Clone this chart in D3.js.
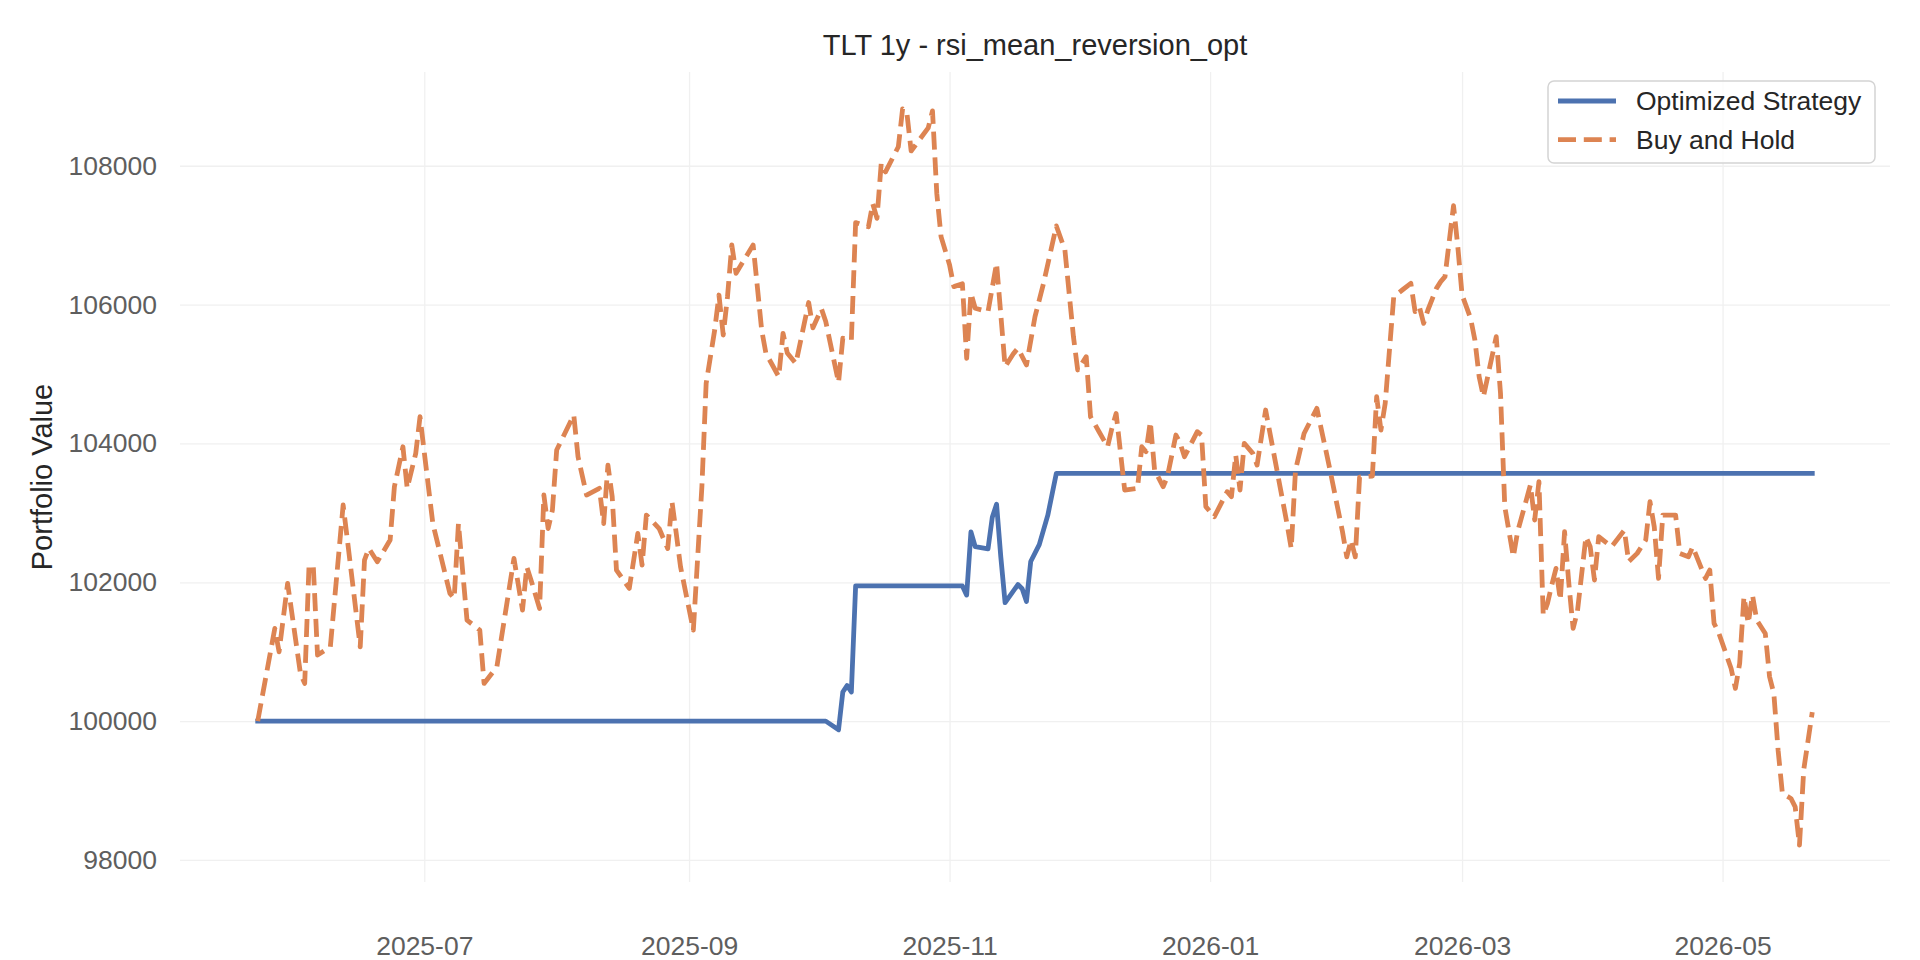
<!DOCTYPE html>
<html>
<head>
<meta charset="utf-8">
<script src="https://cdn.jsdelivr.net/npm/d3@7"></script>
<style>
  html, body { margin: 0; padding: 0; background: #ffffff; }
  svg { display: block; font-family: "Liberation Sans", Arial, sans-serif; }
</style>
</head>
<body>
<div id="chart"></div>
<script>
// Данные.
const titleText = "TLT 1y - rsi_mean_reversion_opt";
const yLabelText = "Portfolio Value";
const seriesNames = ["Optimized Strategy", "Buy and Hold"];

const strategyDates = [
  "2025-05-23", "2025-10-03", "2025-10-06", "2025-10-07", "2025-10-08", "2025-10-09",
  "2025-10-10", "2025-11-04", "2025-11-05", "2025-11-06", "2025-11-07", "2025-11-10",
  "2025-11-11", "2025-11-12", "2025-11-13", "2025-11-14", "2025-11-17", "2025-11-18",
  "2025-11-19", "2025-11-20", "2025-11-22", "2025-11-24", "2025-11-26", "2026-05-22",
];
const strategyValues = [
  100000, 100000, 99875, 100419, 100512, 100419,
  101948, 101948, 101815, 102725, 102513, 102481,
  102936, 103125, 102360, 101706, 101967, 101906,
  101723, 102299, 102542, 102967, 103570, 103570,
];

const holdDates = [
  "2025-05-23", "2025-05-27", "2025-05-28", "2025-05-30", "2025-06-02", "2025-06-03",
  "2025-06-04", "2025-06-05", "2025-06-06", "2025-06-09", "2025-06-12", "2025-06-13",
  "2025-06-16", "2025-06-17", "2025-06-18", "2025-06-20", "2025-06-23", "2025-06-24",
  "2025-06-26", "2025-06-27", "2025-06-29", "2025-06-30", "2025-07-03", "2025-07-07",
  "2025-07-08", "2025-07-09", "2025-07-11", "2025-07-14", "2025-07-15", "2025-07-18",
  "2025-07-22", "2025-07-24", "2025-07-25", "2025-07-26", "2025-07-28", "2025-07-29",
  "2025-07-30", "2025-07-31", "2025-08-01", "2025-08-05", "2025-08-06", "2025-08-08",
  "2025-08-11", "2025-08-12", "2025-08-13", "2025-08-14", "2025-08-15", "2025-08-18",
  "2025-08-20", "2025-08-21", "2025-08-22", "2025-08-25", "2025-08-27", "2025-08-28",
  "2025-08-29", "2025-08-30", "2025-09-02", "2025-09-04", "2025-09-05", "2025-09-07",
  "2025-09-08", "2025-09-09", "2025-09-10", "2025-09-11", "2025-09-12", "2025-09-16",
  "2025-09-18", "2025-09-19", "2025-09-22", "2025-09-23", "2025-09-24", "2025-09-26",
  "2025-09-29", "2025-09-30", "2025-10-02", "2025-10-03", "2025-10-06", "2025-10-07",
  "2025-10-09", "2025-10-10", "2025-10-13", "2025-10-14", "2025-10-15", "2025-10-16",
  "2025-10-17", "2025-10-20", "2025-10-21", "2025-10-22", "2025-10-23", "2025-10-27",
  "2025-10-28", "2025-10-29", "2025-10-30", "2025-11-01", "2025-11-02", "2025-11-04",
  "2025-11-05", "2025-11-06", "2025-11-07", "2025-11-10", "2025-11-12", "2025-11-14",
  "2025-11-16", "2025-11-17", "2025-11-19", "2025-11-21", "2025-11-23", "2025-11-26",
  "2025-11-28", "2025-11-30", "2025-12-01", "2025-12-03", "2025-12-04", "2025-12-06",
  "2025-12-08", "2025-12-09", "2025-12-10", "2025-12-12", "2025-12-15", "2025-12-16",
  "2025-12-17", "2025-12-18", "2025-12-19", "2025-12-21", "2025-12-22", "2025-12-24",
  "2025-12-25", "2025-12-26", "2025-12-29", "2025-12-30", "2025-12-31", "2026-01-02",
  "2026-01-05", "2026-01-06", "2026-01-07", "2026-01-08", "2026-01-09", "2026-01-11",
  "2026-01-12", "2026-01-14", "2026-01-19", "2026-01-20", "2026-01-21", "2026-01-23",
  "2026-01-26", "2026-01-29", "2026-02-01", "2026-02-02", "2026-02-03", "2026-02-04",
  "2026-02-05", "2026-02-08", "2026-02-09", "2026-02-10", "2026-02-11", "2026-02-13",
  "2026-02-15", "2026-02-17", "2026-02-18", "2026-02-19", "2026-02-20", "2026-02-21",
  "2026-02-23", "2026-02-24", "2026-02-25", "2026-02-27", "2026-02-28", "2026-03-01",
  "2026-03-03", "2026-03-04", "2026-03-05", "2026-03-06", "2026-03-08", "2026-03-09",
  "2026-03-10", "2026-03-11", "2026-03-13", "2026-03-14", "2026-03-17", "2026-03-18",
  "2026-03-19", "2026-03-20", "2026-03-21", "2026-03-22", "2026-03-23", "2026-03-24",
  "2026-03-25", "2026-03-26", "2026-03-27", "2026-03-28", "2026-03-30", "2026-03-31",
  "2026-04-01", "2026-04-02", "2026-04-05", "2026-04-08", "2026-04-09", "2026-04-11",
  "2026-04-13", "2026-04-14", "2026-04-15", "2026-04-16", "2026-04-17", "2026-04-20",
  "2026-04-21", "2026-04-23", "2026-04-24", "2026-04-27", "2026-04-28", "2026-04-29",
  "2026-04-30", "2026-05-03", "2026-05-04", "2026-05-05", "2026-05-06", "2026-05-07",
  "2026-05-08", "2026-05-09", "2026-05-11", "2026-05-12", "2026-05-13", "2026-05-14",
  "2026-05-15", "2026-05-17", "2026-05-18", "2026-05-19", "2026-05-20", "2026-05-22",
];
const holdValues = [
  100000, 101336, 100999, 101985, 100687, 100543,
  102223, 102250, 100951, 101070, 103113, 102608,
  101070, 102320, 102488, 102296, 102608, 103376,
  103952, 103353, 103857, 104385, 102846, 101840,
  101768, 102846, 101455, 101311, 100543, 100783,
  102344, 101600, 102223, 102031, 101622, 103257,
  102774, 103040, 103905, 104410, 103808, 103257,
  103353, 102846, 103688, 103233, 102176, 101912,
  102703, 102247, 102968, 102774, 102487, 103159,
  102703, 102223, 101311, 103376, 104865, 105634,
  106138, 105562, 106114, 106859, 106451, 106859,
  105634, 105298, 104961, 105586, 105302, 105150,
  106030, 105665, 105938, 105757, 104878, 105515,
  105484, 107182, 107121, 107455, 107242, 108039,
  107911, 108274, 108820, 108761, 108213, 108545,
  108790, 107604, 106979, 106571, 106259, 106300,
  105226, 106163, 105947, 105898, 106595, 105105,
  105298, 105370, 105130, 105826, 106307, 107133,
  106787, 105538, 105058, 105250, 104385, 104169,
  103953, 104217, 104432, 103329, 103353, 103953,
  103881, 104313, 103617, 103377, 103521, 104121,
  104000, 103809, 104169, 104121, 103089, 102945,
  103305, 103233, 103833, 103329, 104000, 103857,
  103688, 104481, 102846, 102487, 103617, 104143,
  104505, 103641, 102728, 102367, 102608, 102367,
  103516, 103530, 104673, 104193, 104577, 106114,
  106210, 106307, 105898, 105970, 105730, 105922,
  106234, 106331, 106403, 107425, 106835, 106139,
  105802, 105490, 104961, 104673, 105250, 105538,
  104721, 103089, 102367, 102728, 103401, 102896,
  103450, 101527, 101696, 101960, 102200, 101744,
  102728, 101984, 101336, 101575, 102656, 102512,
  102032, 102656, 102512, 102752, 102296, 102416,
  102608, 103160, 102800, 102055, 102968, 102968,
  102416, 102367, 102512, 102055, 102176, 101408,
  101287, 100759, 100471, 100831, 101792, 101408,
  101815, 101455, 101263, 100639, 100399, 99582,
  98958, 98886, 98765, 98213, 99300, 100130,
];

const yTickValues = [98000, 100000, 102000, 104000, 106000, 108000];
const xTickDates = ["2025-07-01", "2025-09-01", "2025-11-01", "2026-01-01", "2026-03-01", "2026-05-01"];

function toPoints(dates, values) {
  const parse = d3.timeParse("%Y-%m-%d");
  return dates.map((d, i) => ({ date: parse(d), value: values[i] }));
}

function drawGrid(chartGroup, xScale, yScale, options) {
  const grid = chartGroup.append("g").attr("class", "grid-lines");

  grid
    .append("g")
    .attr("transform", `translate(${options.left}, 0)`)
    .call(d3.axisLeft(yScale).tickValues(yTickValues).tickSize(-(options.right - options.left)).tickFormat(""))
    .call((g) => g.select(".domain").remove());

  grid
    .append("g")
    .attr("transform", `translate(0, ${options.bottom})`)
    .call(
      d3.axisBottom(xScale)
        .tickValues(xTickDates.map(d3.timeParse("%Y-%m-%d")))
        .tickSize(-(options.bottom - options.top))
        .tickFormat("")
    )
    .call((g) => g.select(".domain").remove());

  grid.selectAll("line").attr("stroke", "#f0f0f0").attr("stroke-width", 1.3);
}

function drawAxes(svg, xScale, yScale, options) {
  const yAxis = svg
    .append("g")
    .attr("transform", `translate(${options.left}, 0)`)
    .call(d3.axisLeft(yScale).tickValues(yTickValues).tickSize(0).tickPadding(23).tickFormat(d3.format("d")));

  const xAxis = svg
    .append("g")
    .attr("transform", `translate(0, ${options.bottom})`)
    .call(
      d3.axisBottom(xScale)
        .tickValues(xTickDates.map(d3.timeParse("%Y-%m-%d")))
        .tickSize(0)
        .tickPadding(54)
        .tickFormat(d3.timeFormat("%Y-%m"))
    );

  [xAxis, yAxis].forEach((axis) => {
    axis.select(".domain").remove();
    axis
      .selectAll("text")
      .attr("font-size", options.tickFont)
      .attr("font-family", "Liberation Sans, Arial, sans-serif")
      .attr("fill", "#5e5e5e");
  });
}

function drawLegend(svg, options) {
  const legend = svg.append("g").attr("class", "legend");

  legend
    .append("rect")
    .attr("x", 1548)
    .attr("y", 81)
    .attr("width", 327)
    .attr("height", 82)
    .attr("rx", 6)
    .attr("fill", "#ffffff")
    .attr("fill-opacity", 0.8)
    .attr("stroke", "#d4d4d4")
    .attr("stroke-width", 1.5);

  seriesNames.forEach((name, i) => {
    const y = 101 + i * 38.6;
    legend
      .append("line")
      .attr("x1", 1558)
      .attr("x2", 1616)
      .attr("y1", y)
      .attr("y2", y)
      .attr("stroke", options.colors[i])
      .attr("stroke-width", options.lineWidth)
      .attr("stroke-dasharray", i === 1 ? options.dash : null);

    legend
      .append("text")
      .attr("x", 1636)
      .attr("y", y)
      .attr("dy", "0.35em")
      .attr("font-size", options.tickFont)
      .attr("fill", "#262626")
      .text(name);
  });
}

function createChart(containerId, options) {
  const strategy = toPoints(strategyDates, strategyValues);
  const hold = toPoints(holdDates, holdValues);
  const all = strategy.concat(hold);

  // Поля как у matplotlib: 5% с каждой стороны.
  const [x0, x1] = d3.extent(all, (d) => d.date);
  const xPad = (x1 - x0) * 0.05;
  const [y0, y1] = d3.extent(all, (d) => d.value);
  const yPad = (y1 - y0) * 0.05;

  const xScale = d3
    .scaleTime()
    .domain([new Date(+x0 - xPad), new Date(+x1 + xPad)])
    .range([options.left, options.right]);

  const yScale = d3
    .scaleLinear()
    .domain([y0 - yPad, y1 + yPad])
    .range([options.bottom, options.top]);

  const svg = d3
    .select(`#${containerId}`)
    .append("svg")
    .attr("width", options.width)
    .attr("height", options.height)
    .attr("viewBox", `0 0 ${options.width} ${options.height}`);

  svg.append("rect").attr("width", options.width).attr("height", options.height).attr("fill", "#ffffff");

  const chartGroup = svg.append("g");
  drawGrid(chartGroup, xScale, yScale, options);
  drawAxes(svg, xScale, yScale, options);

  const line = d3
    .line()
    .x((d) => xScale(d.date))
    .y((d) => yScale(d.value))
    .curve(d3.curveLinear);

  chartGroup
    .append("path")
    .datum(strategy)
    .attr("class", "line strategy")
    .attr("fill", "none")
    .attr("stroke", options.colors[0])
    .attr("stroke-width", options.lineWidth)
    .attr("stroke-linejoin", "round")
    .attr("stroke-linecap", "square")
    .attr("d", line);

  chartGroup
    .append("path")
    .datum(hold)
    .attr("class", "line hold")
    .attr("fill", "none")
    .attr("stroke", options.colors[1])
    .attr("stroke-width", options.lineWidth)
    .attr("stroke-linejoin", "round")
    .attr("stroke-dasharray", options.dash)
    .attr("d", line);

  svg
    .append("text")
    .attr("x", (options.left + options.right) / 2)
    .attr("y", 55)
    .attr("text-anchor", "middle")
    .attr("font-size", options.titleFont)
    .attr("fill", "#262626")
    .text(titleText);

  svg
    .append("text")
    .attr("transform", `translate(42, ${(options.top + options.bottom) / 2}) rotate(-90)`)
    .attr("text-anchor", "middle")
    .attr("dy", "0.35em")
    .attr("font-size", options.titleFont)
    .attr("fill", "#262626")
    .text(yLabelText);

  drawLegend(svg, options);
}

document.addEventListener("DOMContentLoaded", () => {
  const chartOptions = {
    width: 1920,
    height: 960,
    left: 180,
    right: 1890,
    top: 72,
    bottom: 882,
    lineWidth: 4.8,
    dash: "18,7.8",
    colors: ["#4c72b0", "#dd8452"],
    tickFont: "26.5px",
    titleFont: "29px",
  };

  createChart("chart", chartOptions);
});
</script>
</body>
</html>
